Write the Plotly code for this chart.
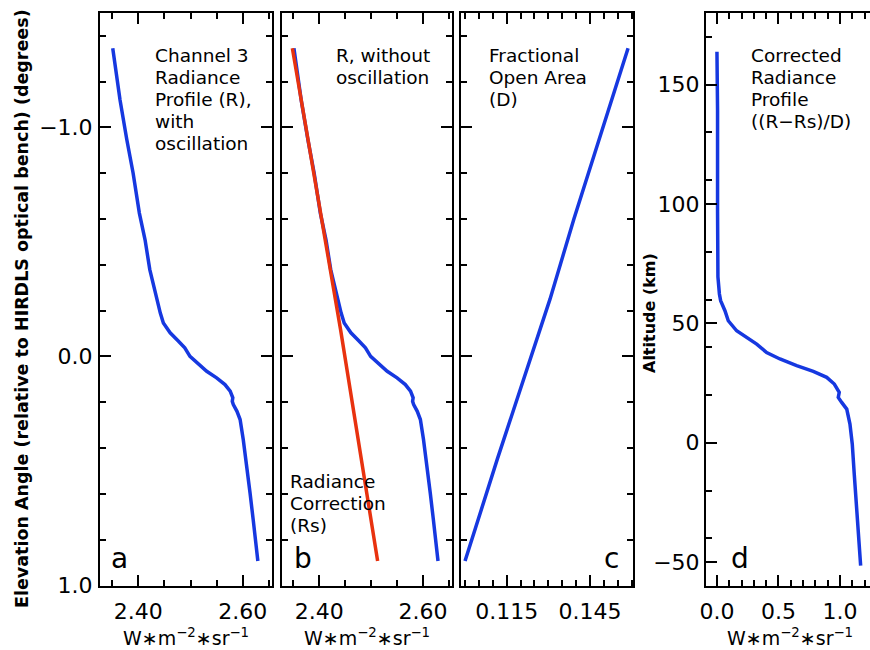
import plotly.graph_objects as go

# ---------------- data ----------------
elev_R = [-1.346, -1.120, -0.946, -0.801, -0.626, -0.508, -0.379, -0.277, -0.190, -0.146,
          -0.103, -0.066, -0.037, 0.000, 0.028, 0.065, 0.094, 0.123, 0.152, 0.181,
          0.196, 0.210, 0.240, 0.276, 0.363, 0.479, 0.596, 0.712, 0.829, 0.894]
R = [2.351, 2.365, 2.378, 2.390, 2.402, 2.413, 2.422, 2.432, 2.442, 2.448,
     2.461, 2.477, 2.489, 2.499, 2.512, 2.531, 2.550, 2.566, 2.576, 2.581,
     2.580, 2.582, 2.589, 2.595, 2.601, 2.608, 2.614, 2.620, 2.625, 2.629]

elev_Rs = [-1.346, -0.684, -0.117, 0.894]
Rs = [2.348, 2.3975, 2.441, 2.5125]

elev_D = [-1.346, -1.0, -0.6, -0.25, 0.0, 0.45, 0.894]
D = [0.1587, 0.1497, 0.1392, 0.1306, 0.1238, 0.1116, 0.1000]

alt_C = [163.8, 139, 97, 69.5, 62.3, 59.5, 55.3, 51.1, 46.9, 44.1, 41.3, 37.8, 35.1,
         32.3, 29.9, 27.4, 24.6, 21.1, 19.0, 16.9, 14.1, 7.8, -0.6, -13.1, -27.1, -41.0, -51.5]
C = [0.000, 0.005, 0.005, 0.008, 0.020, 0.030, 0.065, 0.092, 0.160, 0.241, 0.323, 0.404, 0.512,
     0.648, 0.783, 0.892, 0.954, 0.994, 0.986, 1.014, 1.055, 1.081, 1.100, 1.116, 1.136, 1.154, 1.168]

alt_minor_ticks = [170, 130, 110, 80, 60, 40, 20, -20, -40]

label_a = ["Channel 3", "Radiance", "Profile (R),", "with", "oscillation"]
label_b = ["R, without", "oscillation"]
label_rs = ["Radiance", "Correction", "(Rs)"]
label_c = ["Fractional", "Open Area", "(D)"]
label_d = ["Corrected", "Radiance", "Profile", "((R−Rs)/D)"]

BLUE = "#1638e0"
RED = "#e8320f"
FONT = "DejaVu Sans"
W, H = 870, 650


def px(x):
    return x / W


def py(y):
    return 1 - y / H


fig = go.Figure()
fig.add_trace(go.Scatter(x=R, y=elev_R, mode="lines", line=dict(color=BLUE, width=3.5),
                         xaxis="x", yaxis="y", showlegend=False))
fig.add_trace(go.Scatter(x=R, y=elev_R, mode="lines", line=dict(color=BLUE, width=3.5),
                         xaxis="x2", yaxis="y2", showlegend=False))
fig.add_trace(go.Scatter(x=Rs, y=elev_Rs, mode="lines", line=dict(color=RED, width=3.5),
                         xaxis="x2", yaxis="y2", showlegend=False))
fig.add_trace(go.Scatter(x=D, y=elev_D, mode="lines", line=dict(color=BLUE, width=3.5),
                         xaxis="x3", yaxis="y3", showlegend=False))
fig.add_trace(go.Scatter(x=C, y=alt_C, mode="lines", line=dict(color=BLUE, width=3.5),
                         xaxis="x4", yaxis="y4", showlegend=False))

tickfont = dict(family=FONT, size=22, color="black")
ydom = [py(586), py(13)]


def xaxis(dom, rng, dtick, tick0, mdtick, fmt, anchor, mirror="ticks"):
    return dict(domain=dom, range=rng, anchor=anchor, showline=True, linecolor="black",
                linewidth=2, mirror=mirror, ticks="inside", ticklen=11, tickwidth=1.5,
                tickcolor="black", tickmode="linear", dtick=dtick, tick0=tick0,
                minor=dict(dtick=mdtick, tick0=tick0, ticks="inside", ticklen=6,
                           tickwidth=1.5, tickcolor="black"),
                showgrid=False, zeroline=False, tickfont=tickfont, tickformat=fmt,
                ticklabelstandoff=5, automargin=False)


def yaxis_elev(anchor, labels):
    return dict(domain=ydom, range=[1.003, -1.5], anchor=anchor, showline=True,
                linecolor="black", linewidth=2, mirror="ticks", ticks="inside",
                ticklen=11, tickwidth=1.5, tickcolor="black", tickmode="linear",
                dtick=1.0, tick0=0,
                minor=dict(dtick=0.2, tick0=0, ticks="inside", ticklen=6, tickwidth=1.5,
                           tickcolor="black"),
                showgrid=False, zeroline=False, showticklabels=labels, tickfont=tickfont,
                tickformat=".1f", ticklabelstandoff=1, automargin=False)


fig.update_layout(
    width=W, height=H, margin=dict(l=0, r=0, t=0, b=0, autoexpand=False),
    paper_bgcolor="white", plot_bgcolor="white",
    xaxis=xaxis([px(100), px(272)], [2.3266, 2.6561], 0.2, 2.4, 0.05, ".2f", "y"),
    xaxis2=xaxis([px(282), px(452)], [2.328, 2.656], 0.2, 2.4, 0.05, ".2f", "y2"),
    xaxis3=xaxis([px(461), px(633)], [0.09855, 0.16048], 0.03, 0.115, 0.005, ".3f", "y3"),
    xaxis4=xaxis([px(706), 1.0], [-0.089, 1.244], 0.5, 0.0, 0.1, ".1f", "y4"),
    yaxis=yaxis_elev("x", True),
    yaxis2=yaxis_elev("x2", False),
    yaxis3=yaxis_elev("x3", False),
    yaxis4=dict(domain=ydom, range=[-60, 180], anchor="x4", showline=True,
                linecolor="black", linewidth=2, mirror=False, ticks="inside",
                ticklen=11, tickwidth=1.5, tickcolor="black", tickmode="linear",
                dtick=50, tick0=0,
                minor=dict(tickmode="array", tickvals=alt_minor_ticks, ticks="inside",
                           ticklen=6, tickwidth=1.5, tickcolor="black"),
                showgrid=False, zeroline=False, tickfont=tickfont, tickformat="d",
                ticklabelstandoff=0, automargin=False),
)

ann = []


def note(x, y, text, size=18.5, xanchor="left", yanchor="top", angle=0):
    ann.append(dict(x=px(x), y=py(y), xref="paper", yref="paper", text=text,
                    showarrow=False, xanchor=xanchor, yanchor=yanchor, align="left",
                    textangle=angle, font=dict(family=FONT, size=size, color="black")))


def block(x, first_center, lines, step=22):
    for i, line in enumerate(lines):
        note(x, first_center + i * step - 12, line)


block(153, 55, label_a)
block(334, 55, label_b)
block(288, 481, label_rs)
block(487, 55, label_c)
block(749, 55, label_d)

for lx, letter in [(119, "a"), (303, "b"), (611, "c"), (740, "d")]:
    note(lx, 558, letter, size=28, xanchor="center", yanchor="middle")

unit = "W∗m<sup>−2</sup>∗sr<sup>−1</sup>"
for cx in [186, 367, 790]:
    note(cx, 637, unit, size=19, xanchor="center", yanchor="middle")

note(22, 309, "<b>Elevation Angle (relative to HIRDLS optical bench) (degrees)</b>",
     size=17.5, xanchor="center", yanchor="middle", angle=-90)
note(650, 313, "<b>Altitude (km)</b>", size=16, xanchor="center", yanchor="middle", angle=-90)

fig.update_layout(annotations=ann)
fig.write_html("out.html", config={"displayModeBar": False},
               post_script="document.body.style.margin='0px';")
